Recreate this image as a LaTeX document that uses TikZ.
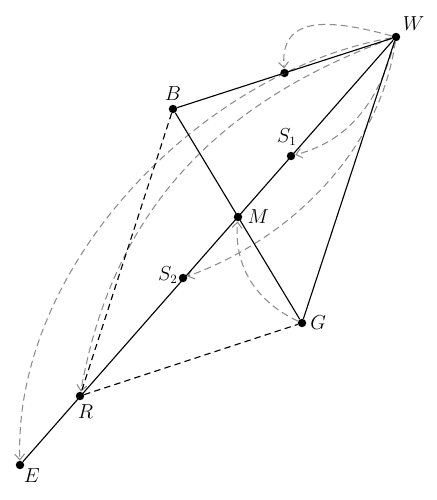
\documentclass[tikz,border=0pt]{standalone}
\usepackage{amsmath, amssymb}
\usetikzlibrary{arrows.meta, positioning, calc}

\begin{document}
\begin{tikzpicture}[x=0.025cm, y=0.025cm,
            pt/.style={circle, fill=black, inner sep=0pt, minimum size=6pt},
            lbl/.style={font=\fontsize{13.5}{16}\selectfont, inner sep=2.5pt},
            edge/.style={line width=0.8pt},
            aux/.style={line width=0.8pt, dash pattern=on 4.5pt off 3pt},
            move/.style={black!45, line width=0.75pt, dash pattern=on 5pt off 3pt,
                -{Straight Barb[length=4pt, width=7pt]}}]

            \useasboundingbox (0,0) rectangle (436,500);

            % points
            \node[pt, label={[lbl]above right:$W$}] (W) at (396,463) {};
            \node[pt, label={[lbl]above:$B$}] (B) at (173,391) {};
            \node[pt] (P) at ($(B)!0.5!(W)$) {};
            \node[pt, label={[lbl, xshift=-3pt, label distance=1.5pt]above:$S_1$}] (S1) at (291,344) {};
            \node[pt, label={[lbl, label distance=1pt]right:$M$}] (M) at (238,283) {};
            \node[pt, label={[lbl, yshift=2pt, label distance=-2pt]left:$S_2$}] (S2) at (183,222) {};
            \node[pt, label={[lbl]right:$G$}] (G) at (302,177) {};
            \node[pt, label={[lbl, xshift=4pt]below:$R$}] (R) at (80,104) {};
            \node[pt, label={[lbl, label distance=-3pt]below right:$E$}] (E) at (20,35) {};

            % moves
            \draw[move] (W) to[out=165, in=95, looseness=1.3] (P);
            \draw[move] (W) to[out=190, in=92, looseness=0.88] (E);
            \draw[move] (W) to[out=200, in=80] (R);
            \draw[move] (W) to[out=255, in=15] (S1);
            \draw[move] (W) to[out=262, in=20, looseness=0.9] (S2);
            \draw[move] (G) to[out=155, in=265] (M);

            % triangle and diagonals
            \draw[edge] (B) -- (W) -- (G) -- (B);
            \draw[edge] (E) -- (W);
            \draw[aux] (B) -- (R) -- (G);
        \end{tikzpicture}
\end{document}
